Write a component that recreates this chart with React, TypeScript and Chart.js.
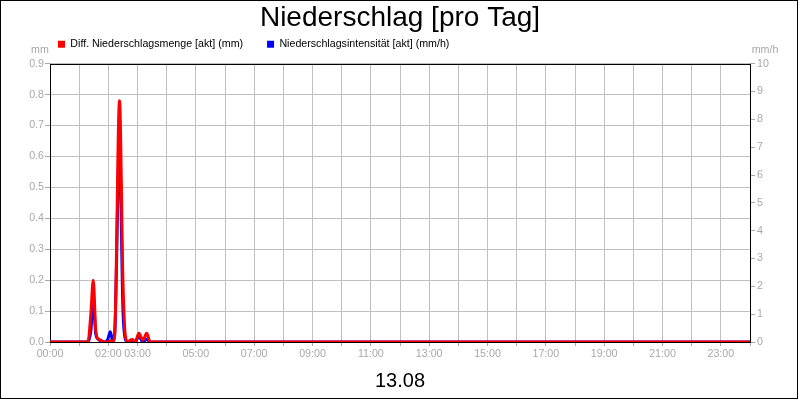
import { useEffect, useRef } from "react"
import Chart from "chart.js/auto"

// minutes since midnight, 13.08
const times = [0, 78, 84, 89, 94, 99, 104, 109, 114, 119, 124, 129, 133, 143, 150, 155, 160, 165, 170, 175, 183, 191, 199, 206, 1440]
// Diff. Niederschlagsmenge [akt] (mm)
const diffAmount = [0, 0, 0.09, 0.2, 0.04, 0.01, 0.006, 0.002, 0, 0, 0.004, 0, 0.02, 0.78, 0.2, 0.02, 0, 0.006, 0.008, 0, 0.028, 0.006, 0.028, 0, 0]
// Niederschlagsintensität [akt] (mm/h)
const intensity = [0, 0, 0.4, 1.5, 0.3, 0.1, 0.05, 0, 0, 0.1, 0.37, 0.05, 0.3, 7.0, 1.2, 0.1, 0, 0, 0, 0, 0.2, 0, 0.1, 0, 0]
// hours that carry a label on the time axis
const labelHours = [0, 2, 3, 5, 7, 9, 11, 13, 15, 17, 19, 21, 23]

const FONT = '"Liberation Sans", Arial, sans-serif'
const GRAY = "#a8a8a8"
const GRID = "#c0c0c0"
const SMALL = 10.67

const framePlugin = {
  id: "frame",
  afterLayout(chart: any) {
    // legend starts a little right of the canvas edge
    if (chart.legend) chart.legend.left += 34
  },
  beforeDatasetsDraw(chart: any) {
    const { ctx, chartArea: a } = chart
    ctx.save()
    ctx.strokeStyle = "#000"
    ctx.lineWidth = 1
    ctx.strokeRect(Math.round(a.left) + 0.5, Math.round(a.top) + 0.5, Math.round(a.right - a.left), Math.round(a.bottom - a.top))
    ctx.restore()
  },
  afterDraw(chart: any) {
    const { ctx, chartArea: a } = chart
    ctx.save()
    ctx.font = `${SMALL}px ${FONT}`
    ctx.fillStyle = GRAY
    ctx.textAlign = "center"
    ctx.textBaseline = "middle"
    ctx.fillText("mm", a.left - 10, a.top - 14)
    ctx.fillText("mm/h", a.right + 15, a.top - 14)
    ctx.strokeStyle = "#000"
    ctx.lineWidth = 1
    ctx.strokeRect(0.5, 0.5, 797, 398)
    ctx.restore()
  },
}

export default function App() {
  const chartRef = useRef<HTMLCanvasElement>(null)
  const chartInstance = useRef<Chart | null>(null)

  useEffect(() => {
    if (!chartRef.current) return
    if (chartInstance.current) chartInstance.current.destroy()

    const ctx = chartRef.current.getContext("2d")
    if (!ctx) return

    Chart.defaults.font.family = FONT

    chartInstance.current = new Chart(ctx, {
      type: "line",
      data: {
        datasets: [
          {
            label: "Diff. Niederschlagsmenge [akt] (mm)",
            data: times.map((t, i) => ({ x: t, y: diffAmount[i] })),
            borderColor: "#ff0000",
            backgroundColor: "#ff0000",
            borderWidth: 3,
            pointRadius: 0,
            cubicInterpolationMode: "monotone",
            yAxisID: "y",
          },
          {
            label: "Niederschlagsintensität [akt] (mm/h)",
            data: times.map((t, i) => ({ x: t, y: intensity[i] })),
            borderColor: "#0000ff",
            backgroundColor: "#0000ff",
            borderWidth: 3,
            pointRadius: 0,
            cubicInterpolationMode: "monotone",
            yAxisID: "y1",
          },
        ],
      },
      options: {
        responsive: false,
        animation: false,
        layout: { padding: 0 },
        scales: {
          x: {
            type: "linear",
            min: 0,
            max: 1440,
            afterFit: (s: any) => {
              s.height = 58
            },
            ticks: {
              stepSize: 60,
              maxTicksLimit: 30,
              autoSkip: false,
              maxRotation: 0,
              padding: 2,
              color: GRAY,
              font: { size: SMALL },
              callback: (v: any) => {
                const h = Number(v) / 60
                return labelHours.includes(h) ? `${String(h).padStart(2, "0")}:00` : ""
              },
            },
            grid: { color: GRID, tickLength: 4, tickColor: GRAY },
            border: { display: false },
            title: {
              display: true,
              text: "13.08",
              color: "#000",
              font: { size: 20 },
              padding: { top: 0, bottom: 7 },
            },
          },
          xTop: {
            type: "linear",
            position: "top",
            display: true,
            afterFit: (s: any) => {
              s.height = 4
            },
            ticks: { display: false },
            grid: { display: false, drawTicks: false },
            border: { display: false },
          },
          y: {
            position: "left",
            min: 0,
            max: 0.9,
            afterFit: (s: any) => {
              s.width = 50
            },
            ticks: {
              stepSize: 0.1,
              padding: 1,
              color: GRAY,
              font: { size: SMALL },
              callback: (v: any) => Number(v).toFixed(1),
            },
            grid: { color: GRID, tickLength: 5, tickColor: GRAY },
            border: { display: false },
          },
          y1: {
            position: "right",
            min: 0,
            max: 10,
            afterFit: (s: any) => {
              s.width = 50
            },
            ticks: {
              stepSize: 1,
              padding: 2,
              color: GRAY,
              font: { size: SMALL },
            },
            grid: { drawOnChartArea: false, tickLength: 5, tickColor: GRAY },
            border: { display: false },
          },
        },
        plugins: {
          title: {
            display: true,
            text: "Niederschlag [pro Tag]",
            color: "#000",
            font: { size: 28, weight: "normal" },
            padding: { top: 1, bottom: -19.6 },
          },
          legend: {
            align: "start",
            labels: {
              boxWidth: 7,
              boxHeight: 7,
              padding: 24,
              color: "#000",
              font: { size: SMALL },
              generateLabels: (chart: any) =>
                Chart.defaults.plugins.legend.labels.generateLabels(chart).map((l: any) => ({ ...l, lineWidth: 0 })),
            },
          },
          tooltip: { enabled: false },
        },
      },
      plugins: [framePlugin],
    } as any)

    return () => {
      if (chartInstance.current) {
        chartInstance.current.destroy()
        chartInstance.current = null
      }
    }
  }, [])

  return (
    <div style={{ position: "absolute", left: 0, top: 0, width: 800, height: 400, background: "#fff" }}>
      <canvas ref={chartRef} width={800} height={400} />
    </div>
  )
}
